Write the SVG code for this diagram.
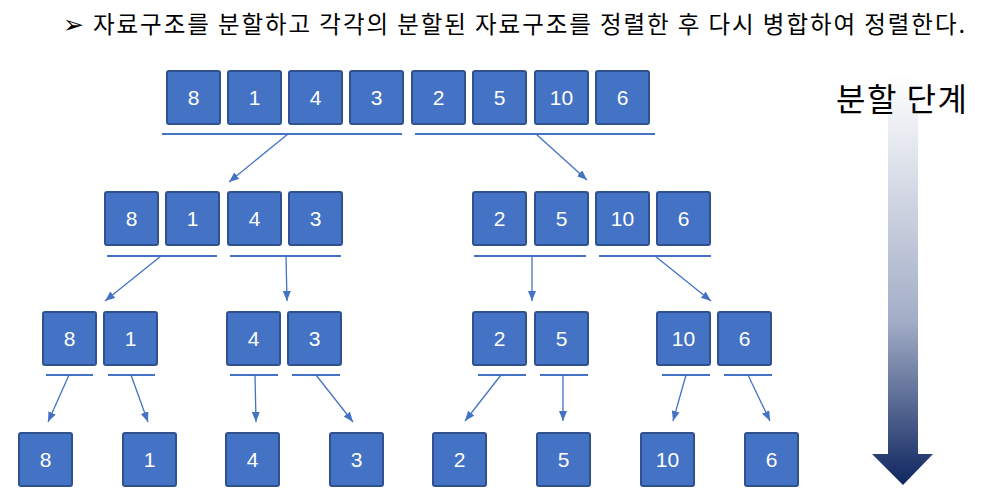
<svg xmlns="http://www.w3.org/2000/svg" width="986" height="497" viewBox="0 0 986 497">
<defs>
<style>
.b rect{fill:#4472C4;stroke:#2F528F;stroke-width:2}
.b text{fill:#FFFFFF;font-family:"Liberation Sans",Arial,sans-serif;font-size:21px;text-anchor:middle}
.u{stroke:#4472C4;stroke-width:2;fill:none}
.c{stroke:#4472C4;stroke-width:1.3;fill:none;marker-end:url(#ah)}
.t{font-family:"Noto Sans CJK KR","Noto Sans",sans-serif;fill:#000000}
</style>
<marker id="ah" markerUnits="userSpaceOnUse" markerWidth="11" markerHeight="9" refX="10" refY="4" orient="auto">
<path d="M0,0 L10,4 L0,8 z" fill="#4472C4"/>
</marker>
<linearGradient id="g" x1="0" y1="0" x2="0" y2="1">
<stop offset="0" stop-color="#FFFFFF"/>
<stop offset="0.6" stop-color="#A2ADC6"/>
<stop offset="1" stop-color="#0F2660"/>
</linearGradient>
</defs>
<rect width="986" height="497" fill="#FFFFFF"/>
<text class="t" x="63" y="33" font-family="DejaVu Sans" font-size="25">➢</text>
<text class="t" x="93" y="33" font-size="23.5" textLength="872" lengthAdjust="spacing">자료구조를 분할하고 각각의 분할된 자료구조를 정렬한 후 다시 병합하여 정렬한다.</text>
<polygon points="888,75 918,75 918,454 933,454 903,485 872,454 888,454" fill="url(#g)"/>
<text class="t" x="836" y="111" font-size="32" textLength="131" lengthAdjust="spacing">분할 단계</text>
<g id="connectors">
<line class="u" x1="162" y1="134" x2="402" y2="134"/>
<line class="u" x1="415" y1="134" x2="655" y2="134"/>
<line class="u" x1="107" y1="256" x2="217" y2="256"/>
<line class="u" x1="230" y1="256" x2="341" y2="256"/>
<line class="u" x1="474" y1="256" x2="586" y2="256"/>
<line class="u" x1="599" y1="256" x2="711" y2="256"/>
<line class="u" x1="46" y1="375" x2="93" y2="375"/>
<line class="u" x1="108" y1="375" x2="155" y2="375"/>
<line class="u" x1="230" y1="375" x2="278" y2="375"/>
<line class="u" x1="292" y1="375" x2="340" y2="375"/>
<line class="u" x1="478" y1="375" x2="526" y2="375"/>
<line class="u" x1="540" y1="375" x2="588" y2="375"/>
<line class="u" x1="662" y1="375" x2="710" y2="375"/>
<line class="u" x1="724" y1="375" x2="772" y2="375"/>
<line class="c" x1="288" y1="134" x2="229" y2="182"/>
<line class="c" x1="536" y1="134" x2="587" y2="180"/>
<line class="c" x1="161" y1="256" x2="105" y2="301"/>
<line class="c" x1="286" y1="256" x2="287" y2="301"/>
<line class="c" x1="532" y1="256" x2="532" y2="301"/>
<line class="c" x1="655" y1="256" x2="711" y2="301"/>
<line class="c" x1="69" y1="375" x2="48" y2="422"/>
<line class="c" x1="131" y1="375" x2="148" y2="422"/>
<line class="c" x1="255" y1="375" x2="256" y2="422"/>
<line class="c" x1="316" y1="375" x2="353" y2="422"/>
<line class="c" x1="501" y1="375" x2="465" y2="421"/>
<line class="c" x1="563" y1="375" x2="563" y2="421"/>
<line class="c" x1="686" y1="375" x2="673" y2="421"/>
<line class="c" x1="748" y1="375" x2="770" y2="421"/>
</g>
<g id="n1-8" class="b"><rect x="167" y="71" width="53" height="53" rx="2"/><text x="193.5" y="105">8</text></g>
<g id="n1-1" class="b"><rect x="228" y="71" width="53" height="53" rx="2"/><text x="254.5" y="105">1</text></g>
<g id="n1-4" class="b"><rect x="289" y="71" width="53" height="53" rx="2"/><text x="315.5" y="105">4</text></g>
<g id="n1-3" class="b"><rect x="350" y="71" width="53" height="53" rx="2"/><text x="376.5" y="105">3</text></g>
<g id="n1-2" class="b"><rect x="412" y="71" width="53" height="53" rx="2"/><text x="438.5" y="105">2</text></g>
<g id="n1-5" class="b"><rect x="473" y="71" width="53" height="53" rx="2"/><text x="499.5" y="105">5</text></g>
<g id="n1-10" class="b"><rect x="535" y="71" width="53" height="53" rx="2"/><text x="561.5" y="105">10</text></g>
<g id="n1-6" class="b"><rect x="596" y="71" width="53" height="53" rx="2"/><text x="622.5" y="105">6</text></g>
<g id="n2-8" class="b"><rect x="105" y="192" width="53" height="53" rx="2"/><text x="131.5" y="226">8</text></g>
<g id="n2-1" class="b"><rect x="166" y="192" width="53" height="53" rx="2"/><text x="192.5" y="226">1</text></g>
<g id="n2-4" class="b"><rect x="228" y="192" width="53" height="53" rx="2"/><text x="254.5" y="226">4</text></g>
<g id="n2-3" class="b"><rect x="289" y="192" width="53" height="53" rx="2"/><text x="315.5" y="226">3</text></g>
<g id="n2-2" class="b"><rect x="473" y="192" width="53" height="53" rx="2"/><text x="499.5" y="226">2</text></g>
<g id="n2-5" class="b"><rect x="535" y="192" width="53" height="53" rx="2"/><text x="561.5" y="226">5</text></g>
<g id="n2-10" class="b"><rect x="596" y="192" width="53" height="53" rx="2"/><text x="622.5" y="226">10</text></g>
<g id="n2-6" class="b"><rect x="657" y="192" width="53" height="53" rx="2"/><text x="683.5" y="226">6</text></g>
<g id="n3-8" class="b"><rect x="43" y="312" width="53" height="53" rx="2"/><text x="69.5" y="346">8</text></g>
<g id="n3-1" class="b"><rect x="104" y="312" width="53" height="53" rx="2"/><text x="130.5" y="346">1</text></g>
<g id="n3-4" class="b"><rect x="227" y="312" width="53" height="53" rx="2"/><text x="253.5" y="346">4</text></g>
<g id="n3-3" class="b"><rect x="288" y="312" width="53" height="53" rx="2"/><text x="314.5" y="346">3</text></g>
<g id="n3-2" class="b"><rect x="473" y="312" width="53" height="53" rx="2"/><text x="499.5" y="346">2</text></g>
<g id="n3-5" class="b"><rect x="535" y="312" width="53" height="53" rx="2"/><text x="561.5" y="346">5</text></g>
<g id="n3-10" class="b"><rect x="657" y="312" width="53" height="53" rx="2"/><text x="683.5" y="346">10</text></g>
<g id="n3-6" class="b"><rect x="718" y="312" width="53" height="53" rx="2"/><text x="744.5" y="346">6</text></g>
<g id="n4-8" class="b"><rect x="19" y="433" width="53" height="53" rx="2"/><text x="45.5" y="467">8</text></g>
<g id="n4-1" class="b"><rect x="123" y="433" width="53" height="53" rx="2"/><text x="149.5" y="467">1</text></g>
<g id="n4-4" class="b"><rect x="226" y="433" width="53" height="53" rx="2"/><text x="252.5" y="467">4</text></g>
<g id="n4-3" class="b"><rect x="330" y="433" width="53" height="53" rx="2"/><text x="356.5" y="467">3</text></g>
<g id="n4-2" class="b"><rect x="433" y="433" width="53" height="53" rx="2"/><text x="459.5" y="467">2</text></g>
<g id="n4-5" class="b"><rect x="537" y="433" width="53" height="53" rx="2"/><text x="563.5" y="467">5</text></g>
<g id="n4-10" class="b"><rect x="641" y="433" width="53" height="53" rx="2"/><text x="667.5" y="467">10</text></g>
<g id="n4-6" class="b"><rect x="745" y="433" width="53" height="53" rx="2"/><text x="771.5" y="467">6</text></g>
</svg>
